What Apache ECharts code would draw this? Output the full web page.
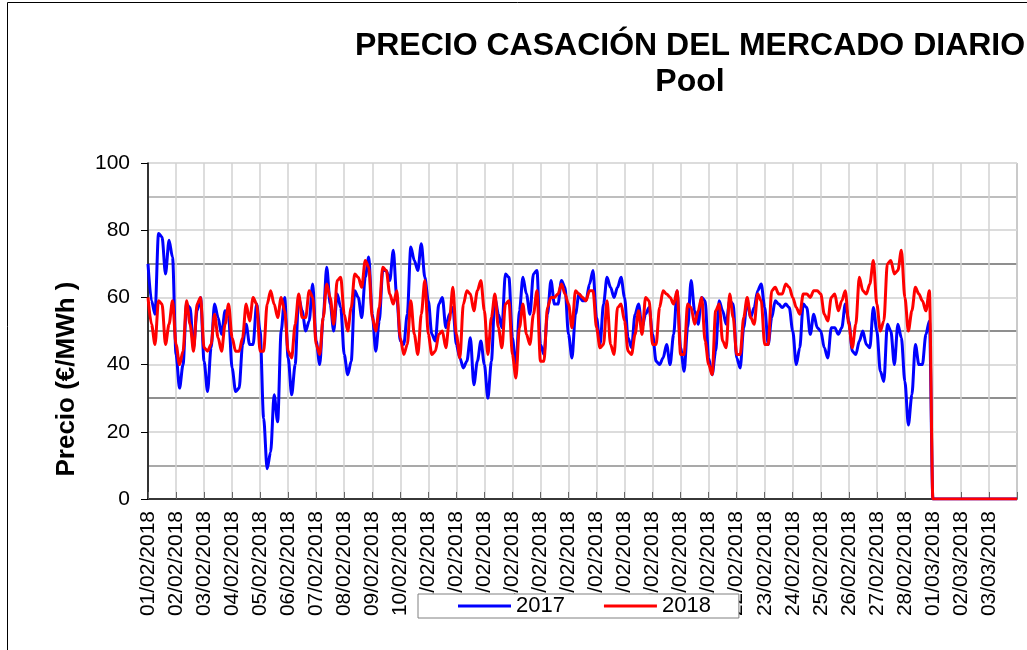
<!DOCTYPE html>
<html><head><meta charset="utf-8">
<script src="https://cdn.jsdelivr.net/npm/echarts@6/dist/echarts.min.js"></script>
<style>html,body{margin:0;padding:0;background:#fff}#c{width:1027px;height:650px}</style>
</head><body><div id="c"></div>
<script>
// Day tick labels (one per day, the axis ends at 04/03 without label)
const dayLabels = ['01/02/2018','02/02/2018','03/02/2018','04/02/2018','05/02/2018','06/02/2018','07/02/2018','08/02/2018','09/02/2018','10/02/2018','11/02/2018','12/02/2018','13/02/2018','14/02/2018','15/02/2018','16/02/2018','17/02/2018','18/02/2018','19/02/2018','20/02/2018','21/02/2018','22/02/2018','23/02/2018','24/02/2018','25/02/2018','26/02/2018','27/02/2018','28/02/2018','01/03/2018','02/03/2018','03/03/2018'];
const samplesPerDay = 8; // one reading every 3 hours
// Precio 2017 (€/MWh), 8 readings per day, 01/02 .. 28/02
const precio2017 = [
70,59,55,79,78,67,77,72,
43,33,40,58,57,45,56,60,
41,32,45,58,54,49,56,54,
39,32,33,46,52,46,46,58,
50,24,9,14,31,23,50,60,
42,31,40,60,56,50,53,64,
47,40,54,69,58,50,61,57,
43,37,41,62,60,54,66,72,
55,44,53,68,68,65,74,60,
47,46,55,75,71,68,76,66,
59,49,47,58,60,51,55,57,
46,42,39,41,48,34,41,47,
40,30,41,60,55,51,67,66,
48,39,56,66,61,55,67,68,
46,43,55,65,58,58,65,63,
49,42,55,61,59,59,64,68,
54,46,58,66,63,60,63,66,
60,48,45,55,58,51,55,57,
49,41,40,42,46,40,49,62,
45,38,51,65,56,52,60,59,
42,37,44,59,56,52,59,58,
42,39,51,59,54,57,62,64,
57,46,54,59,58,57,58,57,
50,40,45,58,57,49,55,51,
50,45,42,51,51,49,51,58,
53,44,43,47,50,46,45,57,
50,38,35,52,50,40,52,48,
35,22,31,46,40,40,49,53
];
// Precio 2018 (€/MWh), 8 readings per day, 01/02 .. 28/02
const precio2018 = [
60,52,46,59,58,46,52,59,
46,40,44,59,52,44,58,60,
45,44,46,55,48,44,52,58,
48,44,44,48,58,53,60,58,
44,44,58,62,58,54,60,56,
44,42,52,61,54,54,62,60,
46,43,54,64,60,52,65,66,
55,50,57,67,66,63,71,69,
54,50,57,69,68,61,58,62,
48,43,46,59,49,43,55,65,
49,43,44,49,50,45,53,63,
49,42,58,62,61,56,62,65,
56,43,54,61,51,45,58,59,
43,36,51,58,49,46,55,62,
41,41,57,60,60,61,64,61,
58,51,62,61,60,59,62,62,
51,45,46,59,46,43,57,58,
53,44,43,49,56,49,60,59,
46,46,57,62,61,60,58,62,
43,43,58,57,52,56,60,47,
40,37,56,58,47,45,61,54,
43,43,54,60,54,52,61,59,
46,46,62,63,61,61,64,63,
60,57,55,61,61,60,62,62,
61,55,53,60,61,56,59,62,
52,45,52,66,62,61,64,71,
58,50,53,70,71,67,68,74,
60,50,56,63,61,59,56,62
];
// March days (01/03 .. 04/03) with no price yet
const marzoDays = [28, 29, 30, 31];
const marzo2017 = [0, 0, 0, 0];
const marzo2018 = [0, 0, 0, 0];
const yTickLabels = [0, 20, 40, 60, 80, 100];

function build(vals, tailVals) {
  const d = vals.map((v, i) => [i / samplesPerDay, v]);
  marzoDays.forEach((x, j) => d.push([x, tailVals[j]]));
  return d;
}

const chart = echarts.init(document.getElementById('c'));
const FONT = 'Liberation Sans, Arial, sans-serif';
const clr = 'rgba(0,0,0,0)';
chart.setOption({
  animation: false,
  backgroundColor: '#fff',
  textStyle: { fontFamily: FONT },
  grid: { left: 148, right: 10, top: 163, bottom: 151, show: true, borderColor: '#666', borderWidth: 1 },
  graphic: [
    { type: 'rect', shape: { x: 7.5, y: 2.5, width: 1200, height: 800 }, style: { fill: 'none', stroke: '#000', lineWidth: 1 }, silent: true, z: 0 },
    { type: 'text', x: 690, y: 30, style: { text: 'PRECIO CASACIÓN DEL MERCADO DIARIO', font: 'bold 32px ' + FONT, fill: '#000', textAlign: 'center', textVerticalAlign: 'top' } },
    { type: 'text', x: 690, y: 66, style: { text: 'Pool', font: 'bold 32px ' + FONT, fill: '#000', textAlign: 'center', textVerticalAlign: 'top' } },
    { type: 'text', x: 67, y: 379, rotation: Math.PI / 2, style: { text: 'Precio (€/MWh )', font: 'bold 26px ' + FONT, fill: '#000', textAlign: 'center', textVerticalAlign: 'middle' } }
  ],
  legend: {
    left: 418, top: 594,
    data: ['2017', '2018'],
    icon: 'rect', itemWidth: 53, itemHeight: 3, itemGap: 39,
    backgroundColor: '#fff', borderColor: '#808080', borderWidth: 1,
    padding: [1, 28, 1, 40],
    textStyle: { fontSize: 22, color: '#000', fontFamily: FONT }
  },
  xAxis: {
    type: 'value', min: 0, max: 31, interval: 1,
    axisLine: { lineStyle: { color: '#000', width: 1.5 } },
    axisTick: { inside: true, length: 7, lineStyle: { color: '#666' } },
    axisLabel: { rotate: 90, margin: 12, fontSize: 21, color: '#000', fontFamily: FONT, padding: [0, 0, 6, 0],
      formatter: v => dayLabels[v] || '' },
    splitLine: { show: true, lineStyle: { color: '#d2d2d2', width: 1.5 } }
  },
  yAxis: [
    {
      type: 'value', min: 0, max: 100, interval: 20,
      axisLine: { show: true, lineStyle: { color: '#000', width: 1.5 } },
      axisTick: { show: true, length: 7, lineStyle: { color: '#000' } },
      axisLabel: { margin: 18, fontSize: 21, color: '#000', fontFamily: FONT,
        formatter: v => yTickLabels.indexOf(v) >= 0 ? String(v) : '' },
      splitLine: { show: true, lineStyle: { color: '#dcdcdc', width: 2 } }
    },
    {
      type: 'value', min: 0, max: 100, interval: 10, position: 'right',
      axisLine: { show: false }, axisTick: { show: false }, axisLabel: { show: false },
      splitLine: { show: true, lineStyle: { width: 1.5,
        color: [clr, '#8c8c8c', clr, '#6a6a6a', clr, '#6a6a6a', clr, '#6a6a6a', clr, '#a8a8a8', clr] } }
    }
  ],
  series: [
    { name: '2017', type: 'line', data: build(precio2017, marzo2017), symbol: 'none', smooth: 0.3, smoothMonotone: 'x',
      lineStyle: { color: '#0000ff', width: 3 }, itemStyle: { color: '#0000ff' } },
    { name: '2018', type: 'line', data: build(precio2018, marzo2018), symbol: 'none', smooth: 0.3, smoothMonotone: 'x',
      lineStyle: { color: '#ff0000', width: 3 }, itemStyle: { color: '#ff0000' } }
  ]
});
</script></body></html>
